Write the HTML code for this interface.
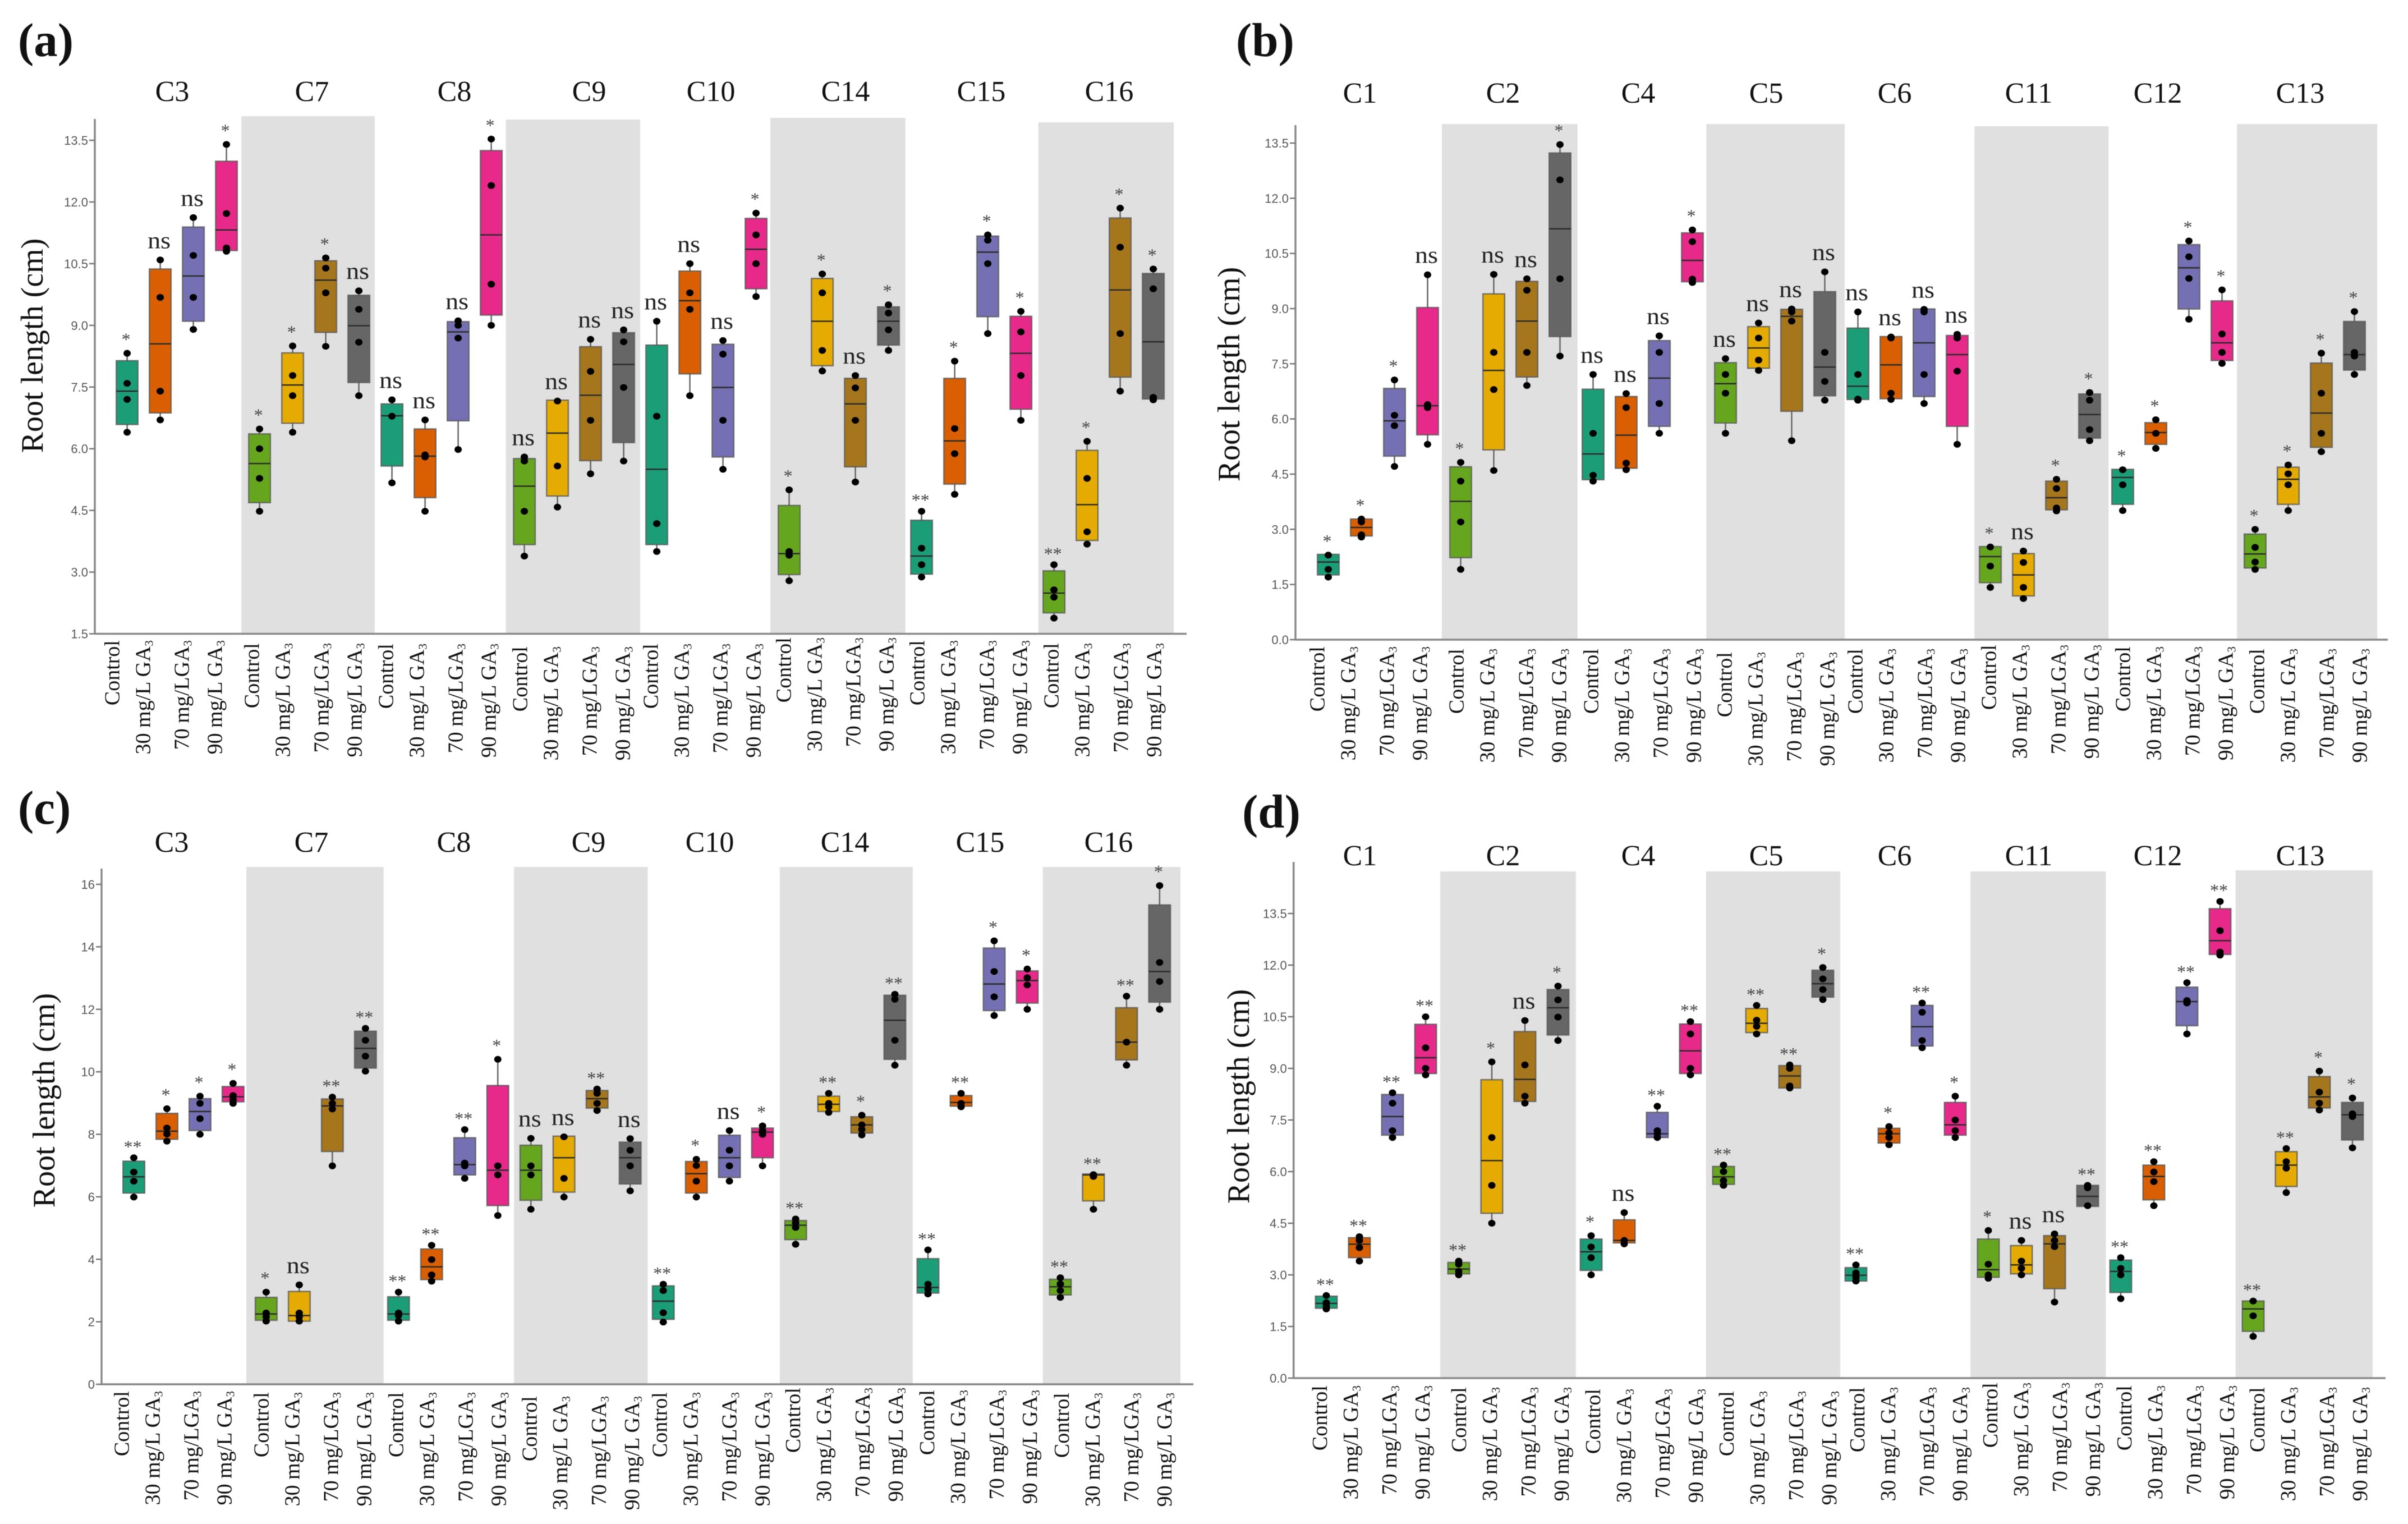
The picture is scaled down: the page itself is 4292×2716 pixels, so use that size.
<!DOCTYPE html>
<html lang="en">
<head>
<meta charset="utf-8">
<title>Root length panels</title>
<style>
html,body{margin:0;padding:0;background:#fff;}
#stage{display:block;width:4292px;height:2716px;filter:blur(0.8px);}
text{font-family:"Liberation Serif",serif;}
.tick-text{font-family:"Liberation Sans",sans-serif;font-size:22px;fill:#555;}
</style>
</head>
<body>
<svg id="stage" xmlns="http://www.w3.org/2000/svg" width="4292" height="2716" viewBox="0 0 4292 2716"></svg>
<script>
const treatments = ['Control', '30 mg/L GA', '70 mg/LGA', '90 mg/L GA'];
const boxColors = ['#1B9E77', '#D95F02', '#7570B3', '#E7298A', '#66A61E', '#E6AB02', '#A6761D', '#666666'];

const ticksAB = ['0.0', '1.5', '3.0', '4.5', '6.0', '7.5', '9.0', '10.5', '12.0', '13.5'];
const ticksA = ['1.5', '3.0', '4.5', '6.0', '7.5', '9.0', '10.5', '12.0', '13.5'];
const ticksC = ['0', '2', '4', '6', '8', '10', '12', '14', '16'];

const groupsA = ['C3', 'C7', 'C8', 'C9', 'C10', 'C14', 'C15', 'C16'];
const q3A = [8.14,10.37,11.39,12.99, 6.36,8.33,10.57,9.73, 7.09,6.48,9.09,13.25, 5.76,7.18,8.48,8.82, 8.52,10.32,8.54,11.6, 4.62,10.14,7.71,9.45, 4.26,7.71,11.17,9.22, 3.03,5.96,11.61,10.26];
const medA = [7.4,8.55,10.2,11.32, 5.64,7.55,10.1,8.99, 6.8,5.82,8.84,11.2, 5.09,6.38,7.3,8.05, 5.5,9.6,7.49,10.85, 3.45,9.1,7.09,9.1, 3.39,6.19,10.78,8.32, 2.49,4.64,9.86,8.6];
const q1A = [6.59,6.87,9.1,10.82, 4.69,6.62,8.83,7.61, 5.58,4.81,6.68,9.25, 3.67,4.85,5.71,6.15, 3.67,7.82,5.8,9.89, 2.94,8.02,5.56,8.52, 2.95,5.14,9.21,6.96, 2.01,3.77,7.74,7.21];
const dotsA = [[8.32,7.59,7.2,6.4],[10.59,9.68,7.4,6.7],[11.62,10.7,9.68,8.9],[13.4,11.72,10.88,10.8],
[6.48,6.0,5.28,4.48],[8.5,7.78,7.29,6.4],[10.64,10.39,9.79,8.49],[9.84,9.39,8.59,7.29],
[7.19,6.79,5.17],[6.7,5.85,5.8,4.48],[9.11,9.0,8.69,5.98],[13.53,12.4,10.0,9.0],
[5.8,5.7,4.48,3.39],[7.16,5.58,4.58],[8.66,7.88,6.69,5.39],[8.89,8.6,7.49,5.7],
[9.1,6.79,4.18,3.5],[10.5,9.79,9.39,7.29],[8.63,8.3,6.69,5.5],[11.73,11.2,10.5,9.7],
[5.0,3.5,3.41,2.79],[10.25,9.79,8.39,7.89],[7.78,7.48,6.69,5.19],[9.5,9.3,8.89,8.39],
[4.48,3.58,3.18,2.88],[8.13,6.49,5.88,4.89],[11.2,11.07,10.5,8.8],[9.34,8.84,7.78,6.69],
[3.18,2.57,2.39,1.88],[6.18,5.28,3.98,3.68],[11.85,10.9,8.8,7.4],[10.37,9.89,7.25,7.19]];
const sigA = ['*','ns','ns','*', '*','*','*','ns', 'ns','ns','ns','*', 'ns','ns','ns','ns', 'ns','ns','ns','*', '*','*','ns','*', '**','*','*','*', '**','*','*','*'];

const groupsB = ['C1', 'C2', 'C4', 'C5', 'C6', 'C11', 'C12', 'C13'];
const q3B = [2.32,3.28,6.83,9.03, 4.7,9.4,9.74,13.23, 6.81,6.61,8.13,11.06, 7.53,8.51,8.98,9.46, 8.47,8.24,8.99,8.27, 2.53,2.34,4.31,6.68, 4.63,5.9,10.74,9.21, 2.87,4.69,7.52,8.65];
const medB = [2.11,3.05,5.95,6.36, 3.76,7.32,8.66,11.17, 5.05,5.56,7.11,10.31, 6.96,7.93,8.79,7.41, 6.89,7.47,8.07,7.75, 2.26,1.76,3.86,6.12, 4.41,5.63,10.11,8.07, 2.33,4.36,6.16,7.75];
const q1B = [1.76,2.82,4.99,5.57, 2.23,5.16,7.14,8.24, 4.35,4.66,5.8,9.73, 5.89,7.38,6.21,6.63, 6.53,6.55,6.61,5.8, 1.55,1.19,3.53,5.48, 3.68,5.31,8.99,7.59, 1.95,3.68,5.23,7.33];
const dotsB = [[2.3,1.91,1.7],[3.28,3.2,2.85,2.79],[7.06,6.1,5.82,4.71],[9.92,6.39,6.31,5.31],
[4.82,4.31,3.2,1.91],[9.93,7.81,6.8,4.6],[9.81,9.5,7.81,6.91],[13.46,12.5,9.81,7.71],
[7.21,5.61,4.47,4.31],[6.69,6.31,4.8,4.62],[8.26,7.81,6.42,5.61],[11.14,10.82,9.8,9.71],
[7.64,7.21,6.7,5.61],[8.61,8.2,7.6,7.32],[8.99,8.91,8.66,5.41],[10.0,7.81,7.02,6.51],
[8.91,7.21,6.54,6.51],[8.23,8.2,6.7,6.53],[8.98,8.91,7.21,6.42],[8.3,8.2,7.3,5.31],
[2.52,2.0,1.42],[2.41,2.1,1.42,1.12],[4.36,4.11,3.58,3.5],[6.72,6.51,5.71,5.41],
[4.62,4.21,3.51],[5.98,5.61,5.2],[10.84,10.41,9.82,8.71],[9.51,8.31,7.81,7.51],
[3.0,2.51,2.11,1.91],[4.75,4.51,4.21,3.51],[7.79,6.7,5.61,5.11],[8.92,7.81,7.71,7.21]];
const sigB = ['*','*','*','ns', '*','ns','ns','*', 'ns','ns','ns','*', 'ns','ns','ns','ns', 'ns','ns','ns','ns', '*','ns','*','*', '*','*','*','*', '*','*','*','*'];

const groupsC = ['C3', 'C7', 'C8', 'C9', 'C10', 'C14', 'C15', 'C16'];
const q3C = [7.14,8.67,9.14,9.53, 2.78,2.97,9.13,11.3, 2.8,4.33,7.89,9.56, 7.65,7.94,9.4,7.75, 3.15,7.13,7.97,8.2, 5.24,9.22,8.56,12.45, 4.02,9.24,13.96,13.23, 3.36,6.73,12.05,15.34];
const medC = [6.64,8.1,8.73,9.2, 2.25,2.2,8.91,10.75, 2.25,3.76,7.03,6.85, 6.85,7.25,9.14,7.25, 2.66,6.74,7.25,8.07, 5.09,8.96,8.3,11.65, 3.1,9.02,12.81,12.92, 3.12,6.7,10.95,13.21];
const q1C = [6.12,7.84,8.12,9.04, 2.05,2.02,7.45,10.12, 2.05,3.35,6.7,5.72, 5.89,6.15,8.84,6.41, 2.08,6.12,6.62,7.25, 4.63,8.73,8.04,10.4, 2.92,8.9,11.96,12.2, 2.86,5.87,10.38,12.23];
const dotsC = [[7.25,6.79,6.5,5.99],[8.82,8.2,8.01,7.78],[9.22,8.99,8.5,8.0],[9.63,9.24,9.11,8.99],
[2.95,2.28,2.16,2.02],[3.18,2.28,2.16,2.02],[9.19,8.99,8.81,6.99],[11.39,11.01,10.5,10.02],
[2.95,2.28,2.2,2.02],[4.45,3.99,3.5,3.3],[8.15,7.08,6.99,6.59],[10.4,6.99,6.7,5.4],
[7.87,6.99,6.7,5.6],[7.92,6.59,5.99],[9.45,9.31,8.99,8.76],[7.86,7.49,6.99,6.19],
[3.2,3.0,2.29,1.99],[7.2,7.0,6.5,5.99],[8.12,7.49,6.99,6.5],[8.27,8.12,8.0,6.99],
[5.29,5.17,5.02,4.48],[9.31,8.99,8.88,8.7],[8.61,8.3,8.15,7.98],[12.48,12.32,11.01,10.21],
[4.3,3.2,3.04,2.89],[9.31,8.99,8.88],[14.19,13.21,12.4,11.8],[13.29,13.01,12.78,12.0],
[3.41,3.21,3.0,2.78],[6.71,6.65,5.6],[12.42,10.95,10.21],[15.96,13.5,12.89,12.0]];
const sigC = ['**','*','*','*', '*','ns','**','**', '**','**','**','*', 'ns','ns','**','ns', '**','*','ns','*', '**','**','*','**', '**','**','*','*', '**','**','**','*'];

const groupsD = ['C1', 'C2', 'C4', 'C5', 'C6', 'C11', 'C12', 'C13'];
const q3D = [2.38,4.08,8.24,10.28, 3.36,8.67,10.07,11.29, 4.04,4.6,7.72,10.29, 6.15,10.74,9.08,11.85, 3.21,7.26,10.83,8.01, 4.04,3.85,4.14,5.6, 3.43,6.19,11.36,13.64, 2.24,6.58,8.76,8.01];
const medD = [2.17,3.89,7.6,9.31, 3.17,6.32,8.68,10.76, 3.67,4.0,7.1,9.51, 5.85,10.31,8.78,11.46, 2.99,7.1,10.21,7.36, 3.15,3.29,3.9,5.28, 3.1,5.86,10.94,12.71, 2.01,6.19,8.17,7.65];
const q1D = [2.03,3.5,7.06,8.85, 3.03,4.79,8.04,9.97, 3.13,3.93,6.99,8.85, 5.63,10.04,8.43,11.07, 2.82,6.83,9.65,7.06, 2.93,3.03,2.6,4.99, 2.49,5.18,10.24,12.31, 1.36,5.57,7.85,6.92];
const dotsD = [[2.4,2.19,2.1,2.01],[4.11,4.0,3.79,3.4],[8.29,7.99,7.19,6.99],[10.5,9.6,9.0,8.81],
[3.4,3.31,3.1,3.0],[9.19,6.99,5.6,4.5],[10.39,9.1,8.19,7.99],[11.39,10.99,10.49,9.81],
[4.14,3.81,3.5,3.0],[4.81,4.0,3.9],[7.9,7.19,7.1,6.99],[10.36,10.0,9.0,8.81],
[6.19,6.0,5.74,5.6],[10.83,10.4,10.22,10.0],[9.1,9.0,8.49,8.43],[11.93,11.6,11.29,11.0],
[3.29,3.06,2.93,2.82],[7.31,7.13,6.99,6.78],[10.9,10.63,9.81,9.6],[8.19,7.5,7.19,6.99],
[4.29,3.31,3.0,2.9],[4.0,3.4,3.19,3.0],[4.19,4.0,3.82,2.21],[5.6,5.53,5.01],
[3.5,3.19,3.0,2.31],[6.29,5.99,5.71,5.01],[11.49,10.97,10.9,10.0],[13.85,13.0,12.38,12.29],
[2.24,1.81,1.21],[6.67,6.29,6.1,5.39],[8.92,8.31,7.99,7.79],[8.14,7.68,7.6,6.69]];
const sigD = ['**','**','**','**', '**','*','ns','*', '*','ns','**','**', '**','**','**','*', '**','*','**','*', '*','ns','ns','**', '**','**','**','**', '**','**','*','*'];

const labelInnerShift = [0, -4, 6, 6];

const panels = [
  { id:'a', letter:'(a)', letterX:32, letterY:100, groups:groupsA, q1:q1A, med:medA, q3:q3A, dots:dotsA, sig:sigA, ticks:ticksA,
    axisX:169, axisTop:212, axisRight:2115, yLo:1.5, yHi:13.5, pxLo:1129.5, pxHi:250, x0:226.6, step:59,
    titleY:180, titleX:[307,556,810,1050,1267,1507,1749,1977],
    bands:[[3.45,7.48,207],[11.44,15.5,213],[19.43,23.51,210],[27.53,31.62,218]],
    yTitleX:76, yTitleY:616,
    labelTop:[1141,1146,1147,1152,1147,1136,1141,1146], labelShift:[-24,-11,-8,-5,-8,-7,-5,-2] },
  { id:'b', letter:'(b)', letterX:2203, letterY:100, groups:groupsB, q1:q1B, med:medB, q3:q3B, dots:dotsB, sig:sigB, ticks:ticksAB,
    axisX:2309, axisTop:223, axisRight:4256, yLo:0, yHi:13.5, pxLo:1140, pxHi:255, x0:2367.5, step:59,
    titleY:183, titleX:[2424,2679,2920,3148,3377,3616,3846,4100],
    bands:[[3.43,7.53,221],[11.42,15.6,221],[19.52,23.57,225],[27.45,31.69,221]],
    yTitleX:2209, yTitleY:667,
    labelTop:[1152,1156,1156,1162,1156,1149,1152,1156], labelShift:[-17,-5,-1,1,-2,0,3,6] },
  { id:'c', letter:'(c)', letterX:32, letterY:1468, groups:groupsC, q1:q1C, med:medC, q3:q3C, dots:dotsC, sig:sigC, ticks:ticksC,
    axisX:181, axisTop:1548, axisRight:2127, yLo:0, yHi:16, pxLo:2467, pxHi:1576, x0:238.5, step:58.98,
    titleY:1518, titleX:[306,555,809,1049,1265,1506,1747,1976],
    bands:[[3.4,7.55,1545],[11.49,15.53,1545],[19.52,23.54,1545],[27.47,31.63,1545]],
    yTitleX:97, yTitleY:1961,
    labelTop:[2479,2481,2481,2488,2481,2473,2477,2482], labelShift:[-19,-6,-2,0,-3.5,-2,1,5] },
  { id:'d', letter:'(d)', letterX:2214, letterY:1475, groups:groupsD, q1:q1D, med:medD, q3:q3D, dots:dotsD, sig:sigD, ticks:ticksAB,
    axisX:2305.7, axisTop:1536, axisRight:4252, yLo:0, yHi:13.5, pxLo:2456, pxHi:1628, x0:2364, step:59,
    titleY:1542, titleX:[2424,2679,2920,3148,3377,3616,3846,4100],
    bands:[[3.44,7.54,1553],[11.47,15.53,1553],[19.46,23.55,1553],[27.47,31.61,1551]],
    yTitleX:2226, yTitleY:1954,
    labelTop:[2469,2472,2475,2479,2472,2464,2469,2472], labelShift:[-9,3,6,8,5,6,9,10] }
];

const NS = 'http://www.w3.org/2000/svg';
const stage = document.getElementById('stage');

function make(tag, attrs, parent) {
  const node = document.createElementNS(NS, tag);
  for (const key in attrs) node.setAttribute(key, attrs[key]);
  parent.appendChild(node);
  return node;
}

panels.forEach(function (p) {
  const yScale = function (v) { return p.pxLo + (v - p.yLo) * (p.pxHi - p.pxLo) / (p.yHi - p.yLo); };
  const xScale = function (i) { return p.x0 + p.step * i; };

  const root = make('g', {}, stage);
  
  

  const letter = make('text', { x:p.letterX, y:p.letterY, 'font-size':85, 'font-weight':'bold', fill:'#111' }, root);
  
  
  letter.textContent = p.letter;

  p.bands.forEach(function (b) {
    const band = make('rect', { x:xScale(b[0]), y:b[2], width:xScale(b[1]) - xScale(b[0]), height:p.pxLo - b[2], fill:'#e0e0e0' }, root);
    
    
  });

  const yAxis = make('line', { x1:p.axisX, x2:p.axisX, y1:p.axisTop, y2:p.pxLo + 1.5, stroke:'#8a8a8a', 'stroke-width':3.5 }, root);
  
  
  const xAxis = make('line', { x1:p.axisX, x2:p.axisRight, y1:p.pxLo, y2:p.pxLo, stroke:'#8a8a8a', 'stroke-width':3.5 }, root);
  
  

  p.ticks.forEach(function (t) {
    const ty = yScale(parseFloat(t));
    const tick = make('line', { x1:p.axisX - 10, x2:p.axisX, y1:ty, y2:ty, stroke:'#777', 'stroke-width':2.5 }, root);
    
    
    const lab = make('text', { x:p.axisX - 12, y:ty + 8, 'text-anchor':'end', class:'tick-text' }, root);
    
    
    lab.textContent = t;
  });

  const yTitle = make('text', { x:p.yTitleX, y:p.yTitleY, 'text-anchor':'middle', 'font-size':56, fill:'#111', transform:'rotate(-90 ' + p.yTitleX + ' ' + p.yTitleY + ')' }, root);
  
  
  yTitle.textContent = 'Root length (cm)';

  p.groups.forEach(function (g, gi) {
    const title = make('text', { x:p.titleX[gi], y:p.titleY, 'text-anchor':'middle', 'font-size':52, fill:'#111' }, root);
    
    
    title.textContent = g;
  });

  p.q1.forEach(function (_, i) {
    const cx = xScale(i);
    const color = boxColors[i % boxColors.length];
    const pts = p.dots[i];
    const hi = Math.max.apply(null, pts);
    const lo = Math.min.apply(null, pts);
    const halfW = 19.3;

    const item = make('g', {}, root);
    
    

    const whisker = make('line', { x1:cx, x2:cx, y1:yScale(hi), y2:yScale(lo), stroke:'#666', 'stroke-width':2.5 }, item);
    
    

    const box = make('rect', { x:cx - halfW, y:yScale(p.q3[i]), width:halfW * 2, height:yScale(p.q1[i]) - yScale(p.q3[i]), fill:color, stroke:'#555', 'stroke-opacity':0.75, 'stroke-width':2.5 }, item);
    
    

    const median = make('line', { x1:cx - halfW, x2:cx + halfW, y1:yScale(p.med[i]), y2:yScale(p.med[i]), stroke:'#2b2b2b', 'stroke-width':2.5 }, item);
    
    

    pts.forEach(function (v) {
      const dot = make('ellipse', { cx:cx, cy:yScale(v), rx:6.5, ry:6, fill:'#000' }, item);
      
      
    });

    const s = p.sig[i];
    const isNs = s === 'ns';
    const sigY = yScale(hi) - (isNs ? 21 : (s === '**' ? 9 : 14));
    const sig = make('text', { x:cx - 2, y:sigY, 'text-anchor':'middle', 'font-size':isNs ? 42 : 32, fill:isNs ? '#222' : '#444' }, item);
    
    
    if (isNs) {
      sig.setAttribute('textLength', '41');
      sig.setAttribute('lengthAdjust', 'spacingAndGlyphs');
    }
    sig.textContent = s;

    const gIdx = Math.floor(i / 4);
    const tx = cx + p.labelShift[gIdx] + labelInnerShift[i % 4] + 10;
    const ty = p.labelTop[gIdx];
    const lab = make('text', { x:tx, y:ty, 'text-anchor':'end', 'font-size':38, fill:'#111', transform:'rotate(-90 ' + tx + ' ' + ty + ')' }, item);
    
    
    lab.appendChild(document.createTextNode(treatments[i % 4]));
    if (i % 4 !== 0) {
      const sub = make('tspan', { 'font-size':21, dy:5 }, lab);
      
      
      sub.textContent = '3';
    }
  });
});
</script>
</body>
</html>
